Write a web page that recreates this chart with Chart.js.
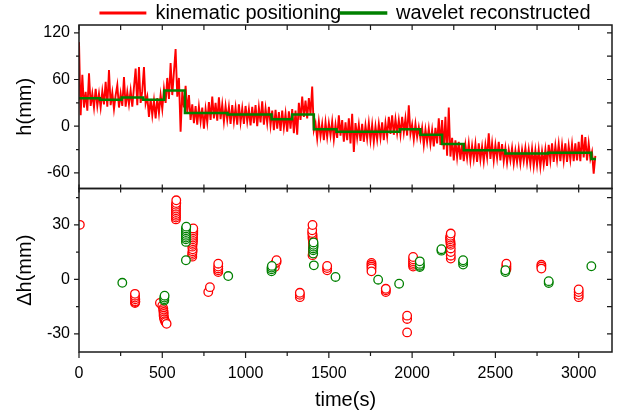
<!DOCTYPE html>
<html>
<head>
<meta charset="utf-8">
<title>kinematic positioning vs wavelet reconstructed</title>
<script src="https://cdn.jsdelivr.net/npm/chart.js@4.4.1/dist/chart.umd.min.js"></script>
<style>
  html, body { margin: 0; padding: 0; background: #fff; }
</style>
</head>
<body>
<canvas id="chart" width="618" height="418"></canvas>
<script>
const FONT = "'Liberation Sans', Arial, sans-serif";

// kinematic positioning h(mm), one sample every kinStep seconds from t = 0 (one row = 100 s)
const kinStep = 10;
const kinValues = [
  108, 14, 66, 24, 44, 20, 68, 26, 42, 24,
  48, 26, 42, 24, 45, 28, 57, 25, 72, 27,
  43, 22, 40, 53, 24, 42, 26, 63, 25, 44,
  28, 46, 25, 50, 74, 27, 76, 30, 45, 76,
  29, 38, 12, 35, 14, 33, 10, 36, 17, 40,
  22, 48, 30, 62, 35, 81, 40, 70, 99, 38,
  62, -7, 45, 24, 52, 18, 40, 8, 28, 4,
  26, 2, 25, 6, 24, -3, 22, 5, 31, 8,
  38, 10, 30, 7, 37, 9, 28, 6, 26, 8,
  25, 3, 27, 6, 24, 2, 28, 5, 23, 3,
  26, 6, 22, 1, 25, 4, 27, 0, 24, 5,
  32, 2, 23, 4, 25, 1, 20, -5, 21, -3,
  18, -6, 20, -2, 16, -7, 19, -3, 22, -9,
  20, -11, 30, 8, 38, 12, 33, 10, 36, 15,
  51, -5, 4, -16, 6, -13, 3, -18, 5, -14,
  4, -12, 6, -17, 2, -15, 14, -12, 8, -20,
  5, -18, 10, -22, 16, -33, 4, -15, 2, -19,
  3, -20, 1, -16, 4, -18, 2, -20, 0, -17,
  3, -15, 5, -18, 4, -13, 12, -10, 14, -11,
  9, -9, 8, -11, 12, -8, 10, -12, 27, -10,
  2, -17, 3, -14, -1, -16, -2, -24, -4, -20,
  -3, -23, -5, -26, -2, -22, 10, -24, 8, -30,
  12, -38, 24, -39, -15, -44, -18, -40, -20, -43,
  -22, -45, -24, -41, -22, -44, -25, -42, -23, -46,
  -22, -43, -26, -45, -24, -40, -9, -42, -22, -44,
  -24, -41, -20, -44, -23, -45, -28, -47, -30, -44,
  -28, -48, -31, -46, -29, -48, -30, -45, -28, -47,
  -30, -49, -29, -51, -31, -50, -30, -52, -32, -49,
  -30, -51, -24, -44, -22, -46, -25, -43, -23, -45,
  -24, -44, -22, -46, -25, -43, -23, -45, -22, -44,
  -20, -45, -11, -40, -14, -44, -22, -42, -33, -61,
  -38
];

// wavelet reconstructed h(mm): level starts at each time
const waveTimes = [0, 126, 256, 386, 512, 636, 892, 1156, 1280, 1410, 1546, 1926, 2050, 2180, 2310, 2560, 2816, 3076, 3104];
const waveValues = [36, 34, 37, 34, 46, 17, 15, 9, 15, -4, -7, -4, -11, -23, -31, -35, -34, -42, -42];

// Δh(mm) points [time, value]
const kinDiff = [
  [5, 30],
  [336, -13], [338, -12.5], [338, -12], [338, -11], [336, -10], [336, -9], [336, -8],
  [486, -13], [500, -14.5], [506, -16], [506, -17], [508, -18], [508, -19], [508, -20], [510, -21],
  [512, -22], [516, -23], [520, -23.6], [526, -24.5],
  [582, 33], [582, 34], [582, 35], [582, 36], [582, 37], [582, 38], [582, 39], [582, 40], [582, 41], [584, 42], [584, 43.5],
  [680, 12.5], [680, 13.5], [680, 14.5], [682, 15.5], [682, 16.5], [680, 18], [682, 19], [682, 20],
  [684, 21], [684, 22], [684, 23], [684, 24], [686, 25], [686, 26], [686, 27], [686, 28],
  [776, -7], [786, -4.3],
  [836, 4], [836, 5], [836, 6], [836, 7], [836, 8.6],
  [1176, 6.8], [1176, 8.6], [1186, 9.5], [1186, 10.5],
  [1326, -9.8], [1326, -8.5], [1326, -7.4],
  [1402, 13.3], [1404, 14.5], [1404, 15.5], [1406, 16.5], [1406, 17.5], [1406, 18.5], [1406, 19.5], [1404, 20.5],
  [1404, 21.5], [1402, 22.5], [1402, 23.5], [1402, 24.5], [1400, 25.5], [1400, 27], [1402, 29.9],
  [1490, 5], [1490, 6.2], [1490, 7.4],
  [1756, 9], [1756, 8], [1756, 7], [1756, 6], [1756, 4.4],
  [1842, -7], [1842, -6], [1842, -5.2],
  [1970, -29.2], [1970, -21.8], [1970, -20],
  [2006, 7], [2006, 8], [2006, 9], [2006, 10], [2006, 11], [2006, 12.3],
  [2232, 11.4], [2232, 13], [2232, 15], [2232, 17], [2232, 19], [2230, 20], [2230, 21], [2228, 22], [2228, 23], [2230, 24], [2232, 25.2],
  [2566, 5.5], [2566, 6.5], [2566, 7.5], [2566, 8.6],
  [2776, 8], [2776, 7], [2776, 5.9],
  [3000, -9.8], [3000, -8.5], [3000, -7], [3000, -5.6]
];
const waveDiff = [
  [260, -1.9],
  [512, -11.7], [512, -11], [512, -10], [514, -9],
  [642, 10.5], [642, 20.6], [642, 22], [642, 23], [642, 24], [642, 25], [642, 26], [642, 27], [642, 28], [644, 29],
  [896, 1.8],
  [1156, 4.4], [1156, 5.5], [1156, 6.5], [1158, 7.4],
  [1410, 7.7], [1406, 14.2], [1406, 16], [1406, 17], [1408, 18], [1408, 19], [1408, 20.3],
  [1540, 1.3],
  [1796, -0.2],
  [1922, -2.4],
  [2046, 6.8], [2046, 7.5], [2046, 8.5], [2046, 9.9],
  [2176, 15.8], [2176, 16.6],
  [2306, 8.1], [2306, 9.5], [2306, 10.5],
  [2560, 4], [2560, 5],
  [2820, -2], [2820, -1],
  [3076, 7.2]
];

const xTicks = [0, 500, 1000, 1500, 2000, 2500, 3000];
const hTicks = [-60, 0, 60, 120];
const dTicks = [-30, 0, 30];

function toPoints(pairs) {
  return pairs.map(([x, y]) => ({ x, y }));
}

function withMinors(majors, scale) {
  const half = (majors[1] - majors[0]) / 2;
  const minors = [];
  majors.forEach(v => {
    [v - half, v + half].forEach(m => {
      if (m > scale.min && m < scale.max && !majors.includes(m) && !minors.includes(m)) minors.push(m);
    });
  });
  return minors;
}

// box around both panels plus Origin-style tick marks
const framePlugin = {
  id: "frame",
  afterDraw(chart) {
    const { ctx, chartArea: a, scales } = chart;
    const x = scales.x, yh = scales.yh, yd = scales.yd;
    ctx.save();
    ctx.strokeStyle = "#1a1a1a";
    ctx.lineWidth = 1.5;
    [yh, yd].forEach(y => ctx.strokeRect(a.left, y.top, a.right - a.left, y.bottom - y.top));

    ctx.lineWidth = 1.2;
    ctx.beginPath();
    const xMinor = withMinors(xTicks, x);
    const xAll = xTicks.concat(xMinor);
    xAll.forEach(v => {
      const px = x.getPixelForValue(v);
      ctx.moveTo(px, yh.top); ctx.lineTo(px, yh.top + 5);
      ctx.moveTo(px, yh.bottom - 4); ctx.lineTo(px, yh.bottom + 4);
    });
    xTicks.forEach(v => {
      const px = x.getPixelForValue(v);
      ctx.moveTo(px, yd.bottom); ctx.lineTo(px, yd.bottom + 6);
    });
    xMinor.forEach(v => {
      const px = x.getPixelForValue(v);
      ctx.moveTo(px, yd.bottom); ctx.lineTo(px, yd.bottom + 4);
    });
    [[yh, hTicks], [yd, dTicks]].forEach(([y, majors]) => {
      const minors = withMinors(majors, y);
      majors.forEach(v => {
        const py = y.getPixelForValue(v);
        ctx.moveTo(a.left - 5, py); ctx.lineTo(a.left, py);
        ctx.moveTo(a.right - 5, py); ctx.lineTo(a.right, py);
      });
      minors.forEach(v => {
        const py = y.getPixelForValue(v);
        ctx.moveTo(a.left - 3, py); ctx.lineTo(a.left, py);
        ctx.moveTo(a.right - 5, py); ctx.lineTo(a.right, py);
      });
    });
    ctx.stroke();
    ctx.restore();
  }
};

// the legend sits in a shorter band than Chart.js gives it, centred on the plot
const legendPlugin = {
  id: "legendBand",
  beforeLayout(chart) {
    const legend = chart.legend;
    if (!legend || legend._patched) return;
    const fit = legend.fit;
    legend.fit = function () {
      fit.call(this);
      this.height = 22;
    };
    legend._patched = true;
  },
  beforeDraw(chart) {
    chart.legend.left = chart.chartArea.left;
    chart.legend.right = chart.chartArea.right;
  }
};

function yAxis(min, max, ticks, title) {
  return {
    type: "linear",
    position: "left",
    stack: "panels",
    stackWeight: 1,
    min,
    max,
    afterBuildTicks: s => { s.ticks = ticks.map(v => ({ value: v })); },
    afterFit: s => { s.width = 79; },
    grid: { display: false, drawTicks: false },
    border: { display: false },
    ticks: { padding: 9, color: "#000", font: { size: 16, family: FONT }, callback: v => String(v) },
    title: { display: true, text: title, color: "#000", font: { size: 20, family: FONT }, padding: { top: 13, bottom: 0 } }
  };
}

const ctx = document.getElementById("chart").getContext("2d");
new Chart(ctx, {
  data: {
    datasets: [
      {
        type: "line",
        label: "kinematic positioning",
        data: kinValues.map((v, i) => ({ x: i * kinStep, y: v })),
        yAxisID: "yh",
        borderColor: "#ff0000",
        backgroundColor: "#ff0000",
        borderWidth: 1.9,
        pointRadius: 0,
        order: 4
      },
      {
        type: "line",
        label: "wavelet reconstructed",
        data: waveTimes.map((t, i) => ({ x: t, y: waveValues[i] })),
        yAxisID: "yh",
        borderColor: "#008000",
        backgroundColor: "#008000",
        borderWidth: 2.5,
        pointRadius: 0,
        stepped: true,
        order: 3
      },
      {
        type: "scatter",
        label: "kinematic Δh",
        data: toPoints(kinDiff),
        yAxisID: "yd",
        borderColor: "#ff0000",
        backgroundColor: "#ffffff",
        borderWidth: 1.3,
        pointRadius: 4.3,
        order: 2
      },
      {
        type: "scatter",
        label: "wavelet Δh",
        data: toPoints(waveDiff),
        yAxisID: "yd",
        borderColor: "#008000",
        backgroundColor: "#ffffff",
        borderWidth: 1.3,
        pointRadius: 4.3,
        order: 1
      }
    ]
  },
  options: {
    responsive: false,
    animation: false,
    layout: { padding: { top: 3, right: 6, left: 0, bottom: 0 } },
    plugins: {
      legend: {
        labels: {
          filter: item => item.datasetIndex < 2,
          sort: (a, b) => a.datasetIndex - b.datasetIndex,
          boxWidth: 45,
          boxHeight: 1,
          padding: 0,
          color: "#000",
          font: { size: 20, family: FONT }
        }
      },
      tooltip: { enabled: false }
    },
    scales: {
      x: {
        type: "linear",
        min: 0,
        max: 3200,
        afterBuildTicks: s => { s.ticks = xTicks.map(v => ({ value: v })); },
        afterFit: s => { s.height = 66; },
        grid: { display: false, drawTicks: false },
        border: { display: false },
        ticks: { padding: 12, color: "#000", font: { size: 16, family: FONT }, callback: v => String(v) },
        title: { display: true, text: "time(s)", color: "#000", font: { size: 20, family: FONT }, padding: { top: 0, bottom: 6 } }
      },
      yd: yAxis(-40, 50, dTicks, "Δh(mm)"),
      yh: yAxis(-80, 130, hTicks, "h(mm)")
    }
  },
  plugins: [framePlugin, legendPlugin]
});
</script>
</body>
</html>
